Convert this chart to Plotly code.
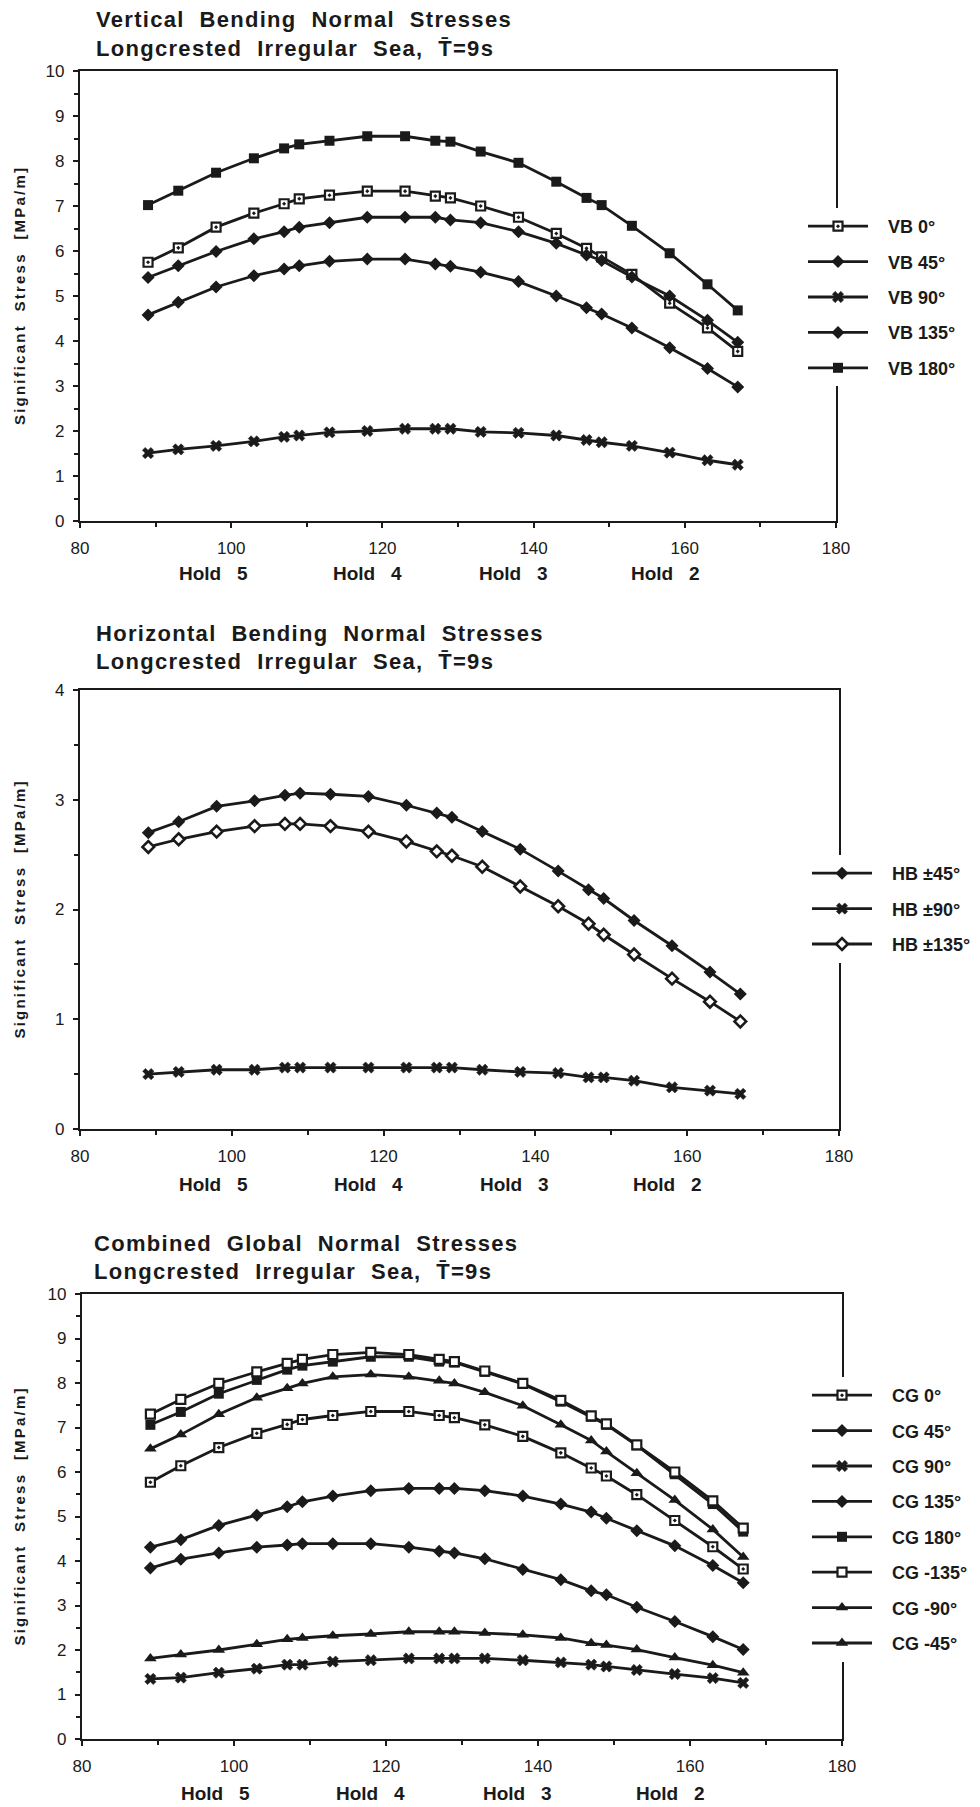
import plotly.graph_objects as go

# ---------------- data ----------------
X = [89, 93, 98, 103, 107, 109, 113, 118, 123, 127, 129, 133, 138, 143, 147, 149, 153, 158, 163, 167]

VB_NAMES = ["VB 0°", "VB 45°", "VB 90°", "VB 135°", "VB 180°"]
VB_0 = [5.75, 6.07, 6.53, 6.84, 7.05, 7.16, 7.24, 7.33, 7.33, 7.22, 7.18, 7.00, 6.75, 6.39, 6.06, 5.87, 5.48, 4.84, 4.29, 3.77]
VB_45 = [5.41, 5.67, 5.99, 6.27, 6.43, 6.53, 6.63, 6.75, 6.75, 6.75, 6.69, 6.63, 6.43, 6.17, 5.91, 5.79, 5.42, 5.00, 4.46, 3.97]
VB_90 = [1.51, 1.59, 1.67, 1.77, 1.87, 1.90, 1.97, 2.00, 2.05, 2.05, 2.05, 1.98, 1.96, 1.90, 1.80, 1.75, 1.67, 1.52, 1.35, 1.25]
VB_135 = [4.58, 4.86, 5.20, 5.45, 5.60, 5.67, 5.77, 5.82, 5.82, 5.71, 5.66, 5.53, 5.32, 5.00, 4.74, 4.60, 4.29, 3.85, 3.39, 2.98]
VB_180 = [7.02, 7.34, 7.74, 8.06, 8.28, 8.37, 8.45, 8.55, 8.55, 8.45, 8.43, 8.21, 7.96, 7.54, 7.18, 7.02, 6.56, 5.95, 5.26, 4.68]

HB_NAMES = ["HB ±45°", "HB ±90°", "HB ±135°"]
HB_45 = [2.70, 2.80, 2.94, 2.99, 3.04, 3.06, 3.05, 3.03, 2.95, 2.88, 2.84, 2.71, 2.55, 2.35, 2.18, 2.10, 1.90, 1.67, 1.43, 1.23]
HB_90 = [0.50, 0.52, 0.54, 0.54, 0.56, 0.56, 0.56, 0.56, 0.56, 0.56, 0.56, 0.54, 0.52, 0.51, 0.47, 0.47, 0.44, 0.38, 0.35, 0.32]
HB_135 = [2.57, 2.64, 2.71, 2.76, 2.78, 2.78, 2.76, 2.71, 2.62, 2.53, 2.49, 2.39, 2.21, 2.03, 1.87, 1.77, 1.59, 1.37, 1.16, 0.98]

CG_NAMES = ["CG 0°", "CG 45°", "CG 90°", "CG 135°", "CG 180°", "CG -135°", "CG -90°", "CG -45°"]
CG_0 = [5.77, 6.14, 6.55, 6.87, 7.07, 7.18, 7.27, 7.36, 7.36, 7.27, 7.22, 7.06, 6.80, 6.43, 6.09, 5.91, 5.49, 4.91, 4.32, 3.82]
CG_45 = [3.84, 4.04, 4.18, 4.31, 4.36, 4.39, 4.39, 4.39, 4.31, 4.22, 4.18, 4.05, 3.81, 3.58, 3.33, 3.24, 2.96, 2.64, 2.30, 2.01]
CG_90 = [1.35, 1.38, 1.49, 1.58, 1.67, 1.67, 1.74, 1.77, 1.81, 1.81, 1.81, 1.81, 1.77, 1.72, 1.67, 1.63, 1.55, 1.46, 1.37, 1.26]
CG_135 = [4.31, 4.48, 4.80, 5.03, 5.22, 5.33, 5.46, 5.58, 5.63, 5.63, 5.63, 5.58, 5.46, 5.28, 5.10, 4.96, 4.68, 4.34, 3.90, 3.51]
CG_180 = [7.06, 7.35, 7.76, 8.07, 8.30, 8.39, 8.48, 8.59, 8.59, 8.48, 8.46, 8.25, 7.98, 7.58, 7.24, 7.06, 6.60, 5.95, 5.28, 4.66]
CG_M135 = [7.30, 7.63, 7.99, 8.25, 8.44, 8.53, 8.64, 8.69, 8.64, 8.53, 8.48, 8.27, 7.99, 7.61, 7.26, 7.08, 6.61, 6.00, 5.35, 4.74]
CG_M90 = [1.81, 1.90, 2.00, 2.13, 2.24, 2.27, 2.32, 2.36, 2.41, 2.41, 2.41, 2.38, 2.34, 2.27, 2.15, 2.11, 2.01, 1.83, 1.66, 1.49]
CG_M45 = [6.52, 6.84, 7.30, 7.67, 7.88, 7.99, 8.14, 8.19, 8.14, 8.05, 7.99, 7.79, 7.49, 7.06, 6.71, 6.46, 5.97, 5.37, 4.71, 4.09]

HOLD_LABELS = ["Hold 5", "Hold 4", "Hold 3", "Hold 2"]
HOLD_POS = [97.6, 118.0, 137.3, 157.4]

TITLES = [
    ("Vertical Bending Normal Stresses", "Longcrested Irregular Sea, T\u0304=9s"),
    ("Horizontal Bending Normal Stresses", "Longcrested Irregular Sea, T\u0304=9s"),
    ("Combined Global Normal Stresses", "Longcrested Irregular Sea, T\u0304=9s"),
]
YTITLE = "Significant Stress [MPa/m]"

# ---------------- styling ----------------
FONT = "Liberation Sans, Arial, Helvetica, sans-serif"
INK = "#1a1a1a"
OFF = 8                    # page body margin of the written html
W, H = 980 - OFF, 1807 - OFF


def spaced(s, n):
    return s.replace(" ", "\u00a0" * n)


def marker_style(sym):
    if sym == "square-white":
        return dict(symbol="square", size=9, color="white", line=dict(color=INK, width=2.2))
    if sym == "square-white-dot":
        return dict(symbol="square-dot", size=9, color="white", line=dict(color=INK, width=2.2))
    if sym == "diamond-white":
        return dict(symbol="diamond", size=9, color="white", line=dict(color=INK, width=2.6))
    if sym == "x":
        return dict(symbol="x", size=10, color=INK, line=dict(color=INK, width=0.5))
    if sym == "square":
        return dict(symbol="square", size=10, color=INK, line=dict(color=INK, width=0))
    if sym == "triangle-up":
        return dict(symbol="triangle-up", size=11, color=INK, line=dict(color=INK, width=0))
    return dict(symbol=sym, size=10, color=INK, line=dict(color=INK, width=0))


# pixel geometry (in the target page) of the three panels: (left, right, top, bottom)
PANELS = [(80, 836, 71, 521), (80, 839, 690, 1129), (82, 842, 1294, 1739)]
TITLE_POS = [(94, 20, 48), (94, 633, 661), (92, 1243, 1271)]
HOLD_Y = [573, 1184, 1793]
LEGEND_POS = [(803, 208), (807, 855), (807, 1377)]
YRANGES = [(0, 10), (0, 4), (0, 10)]


def px(xp):
    return (xp - OFF) / W


def py(yp):
    return 1 - (yp - OFF) / H


fig = go.Figure()

series = [
    [(VB_NAMES[0], VB_0, "square-white-dot"), (VB_NAMES[1], VB_45, "diamond"),
     (VB_NAMES[2], VB_90, "x"), (VB_NAMES[3], VB_135, "diamond"), (VB_NAMES[4], VB_180, "square")],
    [(HB_NAMES[0], HB_45, "diamond"), (HB_NAMES[1], HB_90, "x"), (HB_NAMES[2], HB_135, "diamond-white")],
    [(CG_NAMES[0], CG_0, "square-white-dot"), (CG_NAMES[1], CG_45, "diamond"), (CG_NAMES[2], CG_90, "x"),
     (CG_NAMES[3], CG_135, "diamond"), (CG_NAMES[4], CG_180, "square"), (CG_NAMES[5], CG_M135, "square-white"),
     (CG_NAMES[6], CG_M90, "triangle-up"), (CG_NAMES[7], CG_M45, "triangle-up")],
]

legend_names = ["legend", "legend2", "legend3"]

for i, group in enumerate(series):
    suffix = "" if i == 0 else str(i + 1)
    for name, ys, sym in group:
        fig.add_trace(go.Scatter(
            x=X, y=ys, mode="lines+markers",
            name="\u00a0\u00a0\u00a0<b>" + name + "</b>",
            legendgroup=f"p{i}{name}",
            legend=legend_names[i],
            line=dict(color=INK, width=2.8),
            marker=marker_style(sym),
            xaxis="x" + suffix, yaxis="y" + suffix,
        ))

layout = dict(
    template="none",
    width=W, height=H,
    margin=dict(l=0, r=0, t=0, b=0, autoexpand=False),
    paper_bgcolor="white", plot_bgcolor="white",
    font=dict(family=FONT, color=INK, size=16),
    showlegend=True,
)

annotations = []
for i, (l, r, t, b) in enumerate(PANELS):
    suffix = "" if i == 0 else str(i + 1)
    xd = [px(l), px(r)]
    yd = [py(b), py(t)]
    common_axis = dict(
        showline=True, linecolor=INK, linewidth=2.4, mirror=True,
        showgrid=False, zeroline=False, automargin=False,
        ticks="outside", ticklen=5, tickwidth=1.8, tickcolor=INK,
        tickfont=dict(family=FONT, size=17, color=INK),
    )
    layout["xaxis" + suffix] = dict(
        common_axis, domain=xd, range=[80, 180], dtick=20, tick0=80,
        anchor="y" + suffix, ticklabelstandoff=5,
        minor=dict(dtick=10, ticks="outside", ticklen=4, tickwidth=1.5, tickcolor=INK),
    )
    y0, y1 = YRANGES[i]
    layout["yaxis" + suffix] = dict(
        common_axis, domain=yd, range=[y0, y1], dtick=1, tick0=0,
        anchor="x" + suffix, ticklabelstandoff=5,
        minor=dict(dtick=0.5, ticks="outside", ticklen=4, tickwidth=1.5, tickcolor=INK),
    )
    # titles (two lines)
    tx, ty1, ty2 = TITLE_POS[i]
    for txt, ty in zip(TITLES[i], (ty1, ty2)):
        annotations.append(dict(
            text="<b><span style='letter-spacing:1.3px'>" + spaced(txt, 2) + "</span></b>",
            xref="paper", yref="paper", x=px(tx), y=py(ty), xanchor="left", yanchor="middle",
            showarrow=False, font=dict(size=22, family=FONT, color=INK)))
    # y title
    annotations.append(dict(
        text="<b><span style='letter-spacing:2.2px'>" + spaced(YTITLE, 2) + "</span></b>",
        xref="paper", yref="paper", x=px(19), y=py((t + b) / 2), xanchor="center", yanchor="middle",
        textangle=-90, showarrow=False, font=dict(size=15, family=FONT, color=INK)))
    # hold labels
    for lab, pos in zip(HOLD_LABELS, HOLD_POS):
        annotations.append(dict(
            text="<b>" + spaced(lab, 3) + "</b>", xref="x" + suffix, yref="paper",
            x=pos, y=py(HOLD_Y[i]), xanchor="center", yanchor="middle",
            showarrow=False, font=dict(size=19, family=FONT, color=INK)))

layout["annotations"] = annotations

legend_common = dict(
    bgcolor="white", borderwidth=0, font=dict(family=FONT, size=18, color=INK),
    itemwidth=60, tracegroupgap=9, xanchor="left", yanchor="top", traceorder="grouped",
)
for name, (lx, ly) in zip(legend_names, LEGEND_POS):
    layout[name] = dict(legend_common, x=px(lx), y=py(ly))

fig.update_layout(layout)
fig.write_html("out.html")
